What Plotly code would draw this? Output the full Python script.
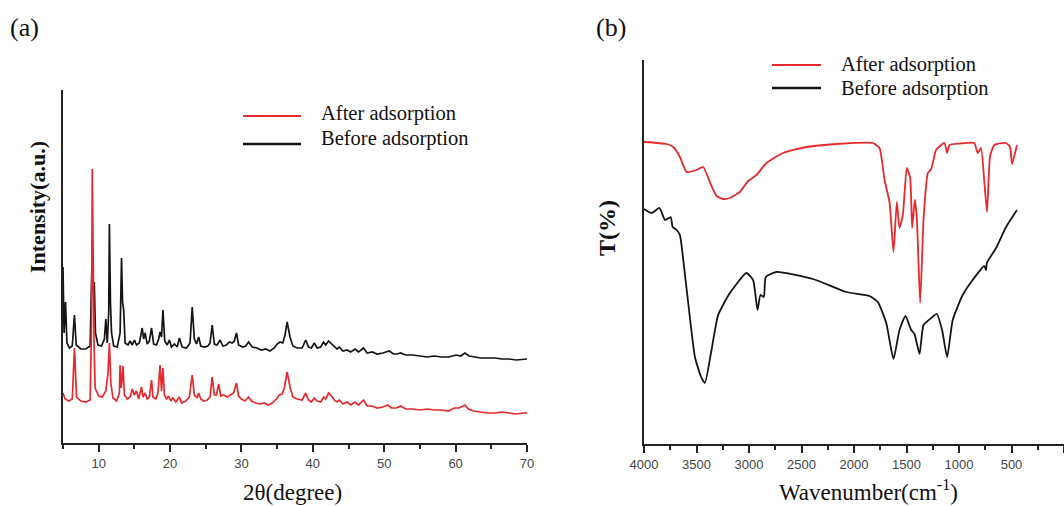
import plotly.graph_objects as go

# ---------------- Panel (a): XRD ----------------
xrd_after_2theta = [5.0, 5.3, 5.8, 6.3, 6.6, 6.9, 7.5, 8.2, 8.8, 9.0, 9.1, 9.25, 9.35, 9.5, 10.0, 10.5, 11.0, 11.3, 11.5, 11.7,
                    12.0, 12.5, 12.9, 13.0, 13.15, 13.4, 13.6, 14.0, 14.4, 14.7, 15.0, 15.3, 15.6, 16.0, 16.2, 16.5, 16.8, 17.1,
                    17.4, 17.6, 18.0, 18.3, 18.6, 18.8, 19.0, 19.2, 19.5, 19.8, 20.1, 20.4, 20.8, 21.3, 21.6, 22.2, 22.7, 23.1,
                    23.4, 23.8, 24.0, 24.3, 24.7, 25.2, 25.6, 25.9, 26.2, 26.5, 26.8, 27.1, 27.5, 28.0, 28.5, 28.9, 29.3, 29.6,
                    30.0, 30.5, 31.0, 31.4, 32.0, 32.6, 33.2, 33.8, 34.3, 34.9, 35.3, 35.7, 36.0, 36.4, 36.8, 37.2, 37.8, 38.5,
                    39.0, 39.4, 39.8, 40.2, 40.6, 41.1, 41.5, 41.8, 42.2, 42.5, 43.0, 43.4, 43.7, 44.2, 44.8, 45.3, 45.9, 46.4,
                    47.1, 47.6, 48.3, 49.0, 49.8, 50.5, 51.0, 51.7, 52.3, 53.0, 54.0, 55.0, 56.0, 57.0, 58.0, 59.0, 59.8, 60.5,
                    61.3, 61.8, 62.5, 63.5, 64.5, 65.5, 66.5, 67.5, 68.5, 69.5, 70.0]
xrd_after_int = [50, 44, 42, 44, 95, 46, 42, 41, 43, 120, 274, 150, 100, 55, 47, 46, 52, 70, 100, 60,
                 45, 42, 50, 78, 55, 77, 48, 44, 46, 54, 48, 52, 44, 56, 46, 50, 44, 46,
                 63, 46, 44, 50, 78, 52, 75, 48, 44, 47, 42, 45, 41, 46, 40, 42, 46, 68,
                 48, 45, 50, 44, 42, 43, 46, 66, 48, 48, 59, 47, 48, 46, 48, 50, 60, 47,
                 44, 42, 46, 42, 40, 39, 40, 38, 40, 44, 48, 49, 55, 71, 56, 46, 44, 43,
                 50, 43, 41, 45, 42, 41, 46, 44, 50, 48, 43, 41, 43, 39, 41, 38, 41, 38,
                 43, 37, 37, 35, 36, 38, 35, 35, 37, 34, 34, 33, 34, 33, 33, 32, 35, 35,
                 38, 34, 32, 31, 30, 30, 31, 30, 29, 30, 30]

xrd_before_2theta = [5.0, 5.15, 5.35, 5.55, 5.9, 6.3, 6.6, 6.85, 7.5, 8.2, 8.8, 9.0, 9.1, 9.25, 9.38, 9.55, 9.9, 10.4, 10.8,
                     11.0, 11.2, 11.4, 11.5, 11.65, 11.8, 12.1, 12.6, 13.0, 13.2, 13.35, 13.5, 13.7, 14.1, 14.4, 14.7, 15.0,
                     15.3, 15.7, 16.1, 16.3, 16.5, 16.8, 17.1, 17.4, 17.7, 18.1, 18.4, 18.6, 18.8, 19.0, 19.25, 19.6, 19.9,
                     20.2, 20.6, 21.0, 21.3, 21.7, 22.3, 22.8, 23.1, 23.4, 23.7, 24.0, 24.3, 24.8, 25.3, 25.6, 25.9, 26.2,
                     26.6, 27.0, 27.4, 27.9, 28.3, 28.7, 29.0, 29.3, 29.6, 30.2, 30.6, 31.0, 31.5, 32.2, 32.8, 33.4, 34.0,
                     34.6, 35.0, 35.4, 35.8, 36.1, 36.4, 36.8, 37.2, 37.8, 38.5, 39.0, 39.4, 39.8, 40.2, 40.6, 41.1, 41.5,
                     41.8, 42.2, 42.5, 43.0, 43.4, 43.7, 44.2, 44.8, 45.3, 45.9, 46.4, 47.1, 47.6, 48.3, 49.0, 49.8, 50.7,
                     51.3, 51.8, 52.3, 53.0, 54.0, 55.0, 56.0, 57.0, 58.0, 59.0, 60.1, 60.7, 61.3, 61.9, 62.5, 63.5, 64.5,
                     65.5, 66.5, 67.5, 68.5, 69.5, 70.0]
xrd_before_int = [176, 110, 141, 100, 95, 97, 128, 98, 94, 94, 97, 150, 193, 150, 161, 110, 98, 97, 104,
                  124, 100, 130, 219, 140, 110, 97, 96, 110, 185, 140, 133, 100, 98, 102, 98, 103,
                  98, 100, 115, 104, 110, 99, 102, 115, 99, 98, 104, 111, 106, 133, 102, 98, 103,
                  96, 99, 96, 105, 96, 95, 100, 136, 104, 99, 106, 97, 96, 97, 100, 118, 99,
                  98, 103, 97, 98, 101, 100, 102, 110, 98, 96, 97, 101, 96, 95, 93, 94, 92,
                  95, 99, 101, 100, 108, 121, 106, 97, 95, 95, 103, 96, 95, 100, 95, 96, 101,
                  98, 102, 100, 96, 94, 96, 92, 93, 91, 94, 91, 95, 90, 91, 89, 90, 92,
                  89, 89, 90, 88, 88, 87, 86, 87, 86, 86, 88, 87, 90, 87, 86, 85, 85,
                  85, 84, 84, 83, 84, 84]

# ---------------- Panel (b): FTIR ----------------
ftir_after_wn = [4000, 3784, 3721, 3658, 3594, 3499, 3436, 3373, 3309, 3246, 3182, 3087, 3008, 2929, 2834, 2676, 2453,
                 2168, 1820, 1757, 1709, 1662, 1624, 1592, 1567, 1535, 1497, 1465, 1446, 1421, 1402, 1370, 1338, 1297,
                 1265, 1218, 1139, 1113, 1091, 933, 854, 822, 790, 758, 733, 704, 663, 552, 514, 495, 448]
ftir_after_t = [302, 300, 297, 287, 272, 274, 277, 262, 248, 245, 246, 252, 263, 269, 281, 291, 297,
                300, 301, 296, 264, 242, 192, 242, 216, 229, 276, 266, 216, 244, 227, 141, 224, 271,
                275, 294, 301, 291, 299, 301, 301, 291, 296, 261, 232, 288, 299, 301, 297, 280, 299]

ftir_before_wn = [4000, 3926, 3853, 3800, 3746, 3727, 3689, 3658, 3626, 3579, 3515, 3460, 3420, 3357, 3294, 3182, 3024,
                  2961, 2919, 2891, 2859, 2840, 2739, 2391, 2073, 1852, 1773, 1693, 1624, 1567, 1510, 1455, 1424, 1376,
                  1338, 1265, 1212, 1161, 1113, 1060, 965, 870, 760, 742, 735, 647, 552, 448]
ftir_before_t = [235, 231, 236, 224, 227, 217, 214, 209, 184, 141, 87, 68, 61, 94, 129, 151, 171,
                 164, 134, 149, 147, 167, 172, 165, 152, 148, 142, 121, 85, 114, 128, 114, 110, 90,
                 119, 126, 130, 114, 87, 124, 149, 164, 178, 174, 181, 196, 217, 234]

RED = "#e8282c"
BLACK = "#141414"
SERIF = "Liberation Serif"
SANS = "Liberation Sans"

fig = go.Figure()
fig.add_trace(go.Scatter(x=xrd_before_2theta, y=xrd_before_int, mode="lines",
                         line=dict(color=BLACK, width=1.7), xaxis="x", yaxis="y", showlegend=False))
fig.add_trace(go.Scatter(x=xrd_after_2theta, y=xrd_after_int, mode="lines",
                         line=dict(color=RED, width=1.7), xaxis="x", yaxis="y", showlegend=False))
fig.add_trace(go.Scatter(x=ftir_after_wn, y=ftir_after_t, mode="lines",
                         line=dict(color=RED, width=1.8, shape="spline", smoothing=0.5),
                         xaxis="x2", yaxis="y2", showlegend=False))
fig.add_trace(go.Scatter(x=ftir_before_wn, y=ftir_before_t, mode="lines",
                         line=dict(color=BLACK, width=1.8, shape="spline", smoothing=0.5),
                         xaxis="x2", yaxis="y2", showlegend=False))

W, H = 1064, 506
def px(x):
    return x / W
def py(y):
    return (H - y) / H

tickfont = dict(family=SANS, size=13, color="#444444")
xcommon = dict(showline=True, linecolor="#222222", linewidth=2, ticks="outside", ticklen=7,
               tickwidth=1.5, tickcolor="#222222", showgrid=False, zeroline=False, tickfont=tickfont,
               automargin=False)
ycommon = dict(showline=True, linecolor="#222222", linewidth=2, ticks="", showticklabels=False,
               showgrid=False, zeroline=False, automargin=False)

fig.update_layout(
    template="none",
    width=W, height=H, margin=dict(l=0, r=0, t=0, b=0, pad=0, autoexpand=False),
    paper_bgcolor="white", plot_bgcolor="white",
    xaxis=dict(domain=[px(63), px(527)], range=[5, 70], tick0=0, dtick=10,
               minor=dict(ticks="outside", ticklen=4, dtick=5, tickcolor="#222222", tickwidth=1.5),
               anchor="y", **xcommon),
    yaxis=dict(domain=[py(443), py(90)], range=[0, 353], anchor="x", **ycommon),
    xaxis2=dict(domain=[px(644), 1.0], range=[4000, 0], tick0=0, dtick=500,
                minor=dict(ticks="outside", ticklen=4, dtick=250, tickcolor="#222222", tickwidth=1.5),
                anchor="y2", **xcommon),
    yaxis2=dict(domain=[py(444), py(60)], range=[0, 384], anchor="x2", **ycommon),
)

ann = []
def text(x, y, s, size, xanchor="center", angle=0, bold=False):
    if bold:
        s = "<b>" + s + "</b>"
    ann.append(dict(x=px(x), y=py(y), xref="paper", yref="paper", text=s, showarrow=False,
                    xanchor=xanchor, yanchor="middle", textangle=angle,
                    font=dict(family=SERIF, size=size, color="#111111")))

text(8, 27, "(a)", 26, xanchor="left")
text(594, 27, "(b)", 26, xanchor="left")
text(292, 492, "2θ(degree)", 23)
text(868, 490, "Wavenumber(cm<sup>-1</sup>)", 23)
text(38, 207, "Intensity(a.u.)", 22, angle=-90, bold=True)
text(607, 228, "T(%)", 24, angle=-90, bold=True)

# legends
text(319, 113, "After adsorption", 20.5, xanchor="left")
text(319, 139, "Before adsorption", 20.5, xanchor="left")
text(839, 64, "After adsorption", 20.5, xanchor="left")
text(839, 88, "Before adsorption", 20.5, xanchor="left")

shapes = [
    dict(type="line", xref="paper", yref="paper", x0=px(243), x1=px(301), y0=py(116), y1=py(116), line=dict(color=RED, width=2)),
    dict(type="line", xref="paper", yref="paper", x0=px(243), x1=px(301), y0=py(144), y1=py(144), line=dict(color=BLACK, width=2.5)),
    dict(type="line", xref="paper", yref="paper", x0=px(772), x1=px(821), y0=py(65), y1=py(65), line=dict(color=RED, width=2)),
    dict(type="line", xref="paper", yref="paper", x0=px(772), x1=px(821), y0=py(88), y1=py(88), line=dict(color=BLACK, width=2.5)),
]
fig.update_layout(annotations=ann, shapes=shapes)

fig.write_html("out.html")
